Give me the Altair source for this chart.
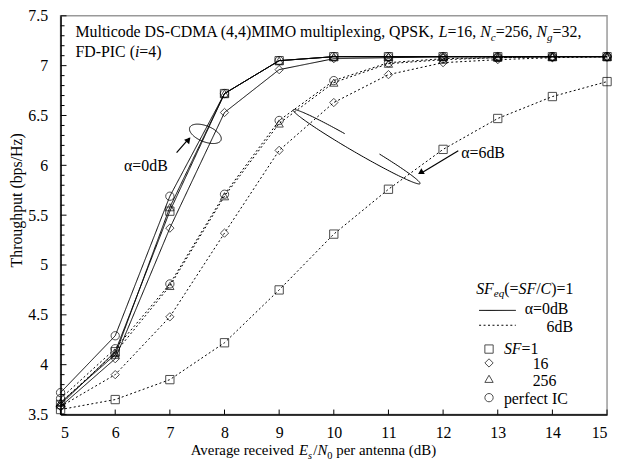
import altair as alt
import pandas as pd
import numpy as np

# ---------------- data ----------------
x_db = [5, 6, 7, 8, 9, 10, 11, 12, 13, 14, 15]
a0_sf1 = [3.60, 4.13, 5.54, 6.72, 7.05, 7.09, 7.09, 7.09, 7.09, 7.09, 7.09]
a0_sf16 = [3.58, 4.06, 5.37, 6.53, 6.96, 7.07, 7.08, 7.09, 7.09, 7.09, 7.09]
a0_sf256 = [3.62, 4.10, 5.58, 6.72, 7.05, 7.09, 7.09, 7.09, 7.09, 7.09, 7.09]
a0_pic = [3.72, 4.29, 5.69, 6.72, 7.05, 7.09, 7.09, 7.09, 7.09, 7.09, 7.09]
a6_sf1 = [3.55, 3.65, 3.85, 4.22, 4.75, 5.31, 5.76, 6.16, 6.47, 6.69, 6.84]
a6_sf16 = [3.58, 3.90, 4.48, 5.32, 6.15, 6.63, 6.91, 7.03, 7.06, 7.08, 7.09]
a6_sf256 = [3.62, 4.12, 4.79, 5.69, 6.42, 6.83, 7.02, 7.06, 7.08, 7.09, 7.09]
a6_pic = [3.66, 4.16, 4.81, 5.71, 6.45, 6.85, 7.03, 7.07, 7.08, 7.09, 7.09]

sf_names = ["SF=1", "16", "256", "perfect IC"]
shapes = ["square", "diamond", "triangle-up", "circle"]
alphas = ["0dB", "6dB"]
x_ticks = [5, 6, 7, 8, 9, 10, 11, 12, 13, 14, 15]
y_labels = [3.5, 4, 4.5, 5, 5.5, 6, 6.5, 7, 7.5]
y_minor = [round(3.5 + 0.1 * i, 1) for i in range(41)]

series = {
    ("0dB", "SF=1"): a0_sf1, ("0dB", "16"): a0_sf16,
    ("0dB", "256"): a0_sf256, ("0dB", "perfect IC"): a0_pic,
    ("6dB", "SF=1"): a6_sf1, ("6dB", "16"): a6_sf16,
    ("6dB", "256"): a6_sf256, ("6dB", "perfect IC"): a6_pic,
}
rows = []
for (al, sf), ys in series.items():
    for xv, yv in zip(x_db, ys):
        rows.append(dict(x=xv, y=yv, alpha=al, sf=sf, series=al + sf))
df = pd.DataFrame(rows)

# ---------------- geometry helpers ----------------
W, H = 551, 402
X0, Y0 = 61, 14  # page position of plot origin


def gx(px):
    return 5 + (px - X0) / W * 10


def gy(py):
    return 7.5 - (py - Y0) / H * 4


REG = {' ': 250, '(': 333, ')': 333, ',': 250, '-': 333, '/': 278, '=': 564,
       'A': 722, 'B': 667, 'C': 667, 'D': 722, 'E': 611, 'F': 556, 'H': 722,
       'I': 333, 'K': 722, 'L': 611, 'M': 889, 'N': 722, 'O': 722, 'P': 556,
       'Q': 722, 'S': 556, 'T': 611, 'a': 444, 'b': 500, 'c': 444, 'd': 500,
       'e': 444, 'f': 333, 'g': 500, 'h': 500, 'i': 278, 'l': 278, 'm': 778,
       'n': 500, 'o': 500, 'p': 500, 'q': 500, 'r': 333, 's': 389, 't': 278,
       'u': 500, 'v': 500, 'x': 500, 'y': 500, 'z': 444, 'α': 520}
ITA = {'C': 667, 'E': 611, 'F': 611, 'L': 556, 'N': 667, 'S': 500, 'c': 444,
       'e': 444, 'g': 500, 'i': 278, 'q': 500}


def textw(t, fs, it):
    tbl = ITA if it else REG
    return sum(tbl.get(c, 500) for c in t) * fs / 1000


def rich(parts, x0, base, align="left", size=16):
    ws = []
    for t, it, sub in parts:
        fs = size * 0.7 if sub else size
        ws.append(textw(t, fs, it))
    tot = sum(ws)
    if align == "right":
        x0 -= tot
    elif align == "center":
        x0 -= tot / 2
    out = []
    x = x0
    for (t, it, sub), w in zip(parts, ws):
        fs = size * 0.7 if sub else size
        lead = len(t) - len(t.lstrip(" "))
        xs_ = x + textw(" " * lead, fs, it)
        out.append(dict(x=gx(xs_), y=gy(base + (4 if sub else 0)), text=t.strip(" "),
                        italic=bool(it), fs=fs))
        x += w
    return out


texts = []
texts += rich([("Multicode DS-CDMA (4,4)MIMO multiplexing, QPSK, ", 0, 0), ("L", 1, 0),
               ("=16, ", 0, 0), ("N", 1, 0), ("c", 1, 1), ("=256, ", 0, 0),
               ("N", 1, 0), ("g", 1, 1), ("=32,", 0, 0)], 76, 35)
texts += rich([("FD-PIC (", 0, 0), ("i", 1, 0), ("=4)", 0, 0)], 76, 56)
texts += rich([("Average received ", 0, 0), ("E", 1, 0), ("s", 1, 1), ("/", 0, 0),
               ("N", 1, 0), ("0", 0, 1), (" per antenna (dB)", 0, 0)], 316, 457,
              "center", size=15)
texts += rich([("SF", 1, 0), ("eq", 1, 1), ("(=", 0, 0), ("SF", 1, 0), ("/", 0, 0),
               ("C", 1, 0), (")=1", 0, 0)], 578, 294, "right")
texts += rich([("α=0dB", 0, 0)], 529, 315)
texts += rich([("6dB", 0, 0)], 551, 333)
texts += rich([("SF", 1, 0), ("=1", 0, 0)], 508, 355)
texts += rich([("16", 0, 0)], 537, 370)
texts += rich([("256", 0, 0)], 537, 387)
texts += rich([("perfect IC", 0, 0)], 508, 405)
texts += rich([("α=0dB", 0, 0)], 125, 170)
texts += rich([("α=6dB", 0, 0)], 465, 157)
tdf = pd.DataFrame(texts)

# ellipses (annotation outlines)
ell_rows = []


def ellipse(cx, cy, a, b, rot, seg, t0, t1):
    th = np.radians(rot)
    ux, uy = np.cos(th), np.sin(th)
    vx, vy = -np.sin(th), np.cos(th)
    for i, t in enumerate(np.linspace(t0, t1, 160)):
        px = cx + a * np.cos(t) * ux + b * np.sin(t) * vx
        py = cy + a * np.cos(t) * uy + b * np.sin(t) * vy
        ell_rows.append(dict(x=gx(px), y=gy(py), seg=seg, i=i))


ellipse(207, 133, 17, 8, 22, "e1", 0, 2 * np.pi)
ellipse(359.5, 146, 74, 5.5, 30.2, "e2", 5.038, 4.480 + 2 * np.pi)
edf = pd.DataFrame(ell_rows)

# arrows
arrow_df = pd.DataFrame([
    dict(x=gx(178), y=gy(152), x2=gx(191), y2=gy(137)),
    dict(x=gx(462), y=gy(150), x2=gx(424), y2=gy(173)),
])
head_df = pd.DataFrame([
    dict(x=gx(190), y=gy(139), ang=41),
    dict(x=gx(424), y=gy(172), ang=239),
])

# legend samples
leg_lines = pd.DataFrame([
    dict(x=gx(483), x2=gx(520), y=gy(311), alpha="0dB"),
    dict(x=gx(483), x2=gx(520), y=gy(326), alpha="6dB"),
])
leg_pts = pd.DataFrame([
    dict(x=gx(493), y=gy(350), sf="SF=1"),
    dict(x=gx(493), y=gy(364), sf="16"),
    dict(x=gx(493), y=gy(380), sf="256"),
    dict(x=gx(493), y=gy(399), sf="perfect IC"),
])

# ticks (inward)
xt_df = pd.DataFrame(dict(x=x_ticks, y=[3.5] * len(x_ticks),
                          y2=[3.5 + 5 / H * 4] * len(x_ticks)))
yt_df = pd.DataFrame(dict(y=y_minor, x=[5] * len(y_minor),
                          x2=[5 + (6 if abs(v * 2 - round(v * 2)) < 1e-6 else 4) / W * 10 for v in y_minor]))

FONT = "Liberation Serif"
xs = alt.Scale(domain=[5, 15], nice=False, zero=False)
ys = alt.Scale(domain=[3.5, 7.5], nice=False, zero=False)
dash_scale = alt.Scale(domain=alphas, range=[[1, 0], [2, 2.5]])
shape_scale = alt.Scale(domain=sf_names, range=shapes)

X = alt.X("x:Q", scale=xs, title=None,
          axis=alt.Axis(values=x_ticks, format="d", labelPadding=10, labelFont=FONT,
                        labelFontSize=16, labelColor="black", ticks=False, grid=False,
                        domainColor="black", domainWidth=1.5))
Y = alt.Y("y:Q", scale=ys, title=None,
          axis=alt.Axis(values=y_labels, format=".1~f", labelPadding=13, labelFont=FONT,
                        labelFontSize=16, labelColor="black", ticks=False, grid=False,
                        domainColor="black", domainWidth=1.5))

lines = alt.Chart(df).mark_line(color="black", strokeWidth=1).encode(
    x=X, y=Y, detail="series:N",
    strokeDash=alt.StrokeDash("alpha:N", scale=dash_scale, legend=None))
pts = alt.Chart(df).mark_point(filled=False, color="black", size=70, strokeWidth=1).encode(
    x="x:Q", y="y:Q", shape=alt.Shape("sf:N", scale=shape_scale, legend=None))

xt = alt.Chart(xt_df).mark_rule(color="black", strokeWidth=1).encode(x="x:Q", y="y:Q", y2="y2")
yt = alt.Chart(yt_df).mark_rule(color="black", strokeWidth=1).encode(x="x:Q", x2="x2", y="y:Q")

ll = alt.Chart(leg_lines).mark_rule(color="black", strokeWidth=1).encode(
    x="x:Q", x2="x2", y="y:Q",
    strokeDash=alt.StrokeDash("alpha:N", scale=alt.Scale(domain=alphas, range=[[1, 0], [4, 3]]), legend=None))
lp = alt.Chart(leg_pts).mark_point(filled=False, color="black", size=70, strokeWidth=1).encode(
    x="x:Q", y="y:Q", shape=alt.Shape("sf:N", scale=shape_scale, legend=None))

ell = alt.Chart(edf).mark_line(color="black", strokeWidth=1).encode(
    x="x:Q", y="y:Q", detail="seg:N", order="i:Q")
arr = alt.Chart(arrow_df).mark_rule(color="black", strokeWidth=1.2).encode(
    x="x:Q", y="y:Q", x2="x2", y2="y2")
heads = alt.Chart(head_df).mark_point(shape="triangle-up", filled=True, color="black",
                                      size=45, opacity=1).encode(
    x="x:Q", y="y:Q", angle=alt.Angle("ang:Q", scale=None))

tn = alt.Chart(tdf[~tdf.italic]).mark_text(align="left", baseline="alphabetic", font=FONT,
                                          color="black").encode(
    x="x:Q", y="y:Q", text="text:N", size=alt.Size("fs:Q", scale=None, legend=None))
ti = alt.Chart(tdf[tdf.italic]).mark_text(align="left", baseline="alphabetic", font=FONT,
                                         fontStyle="italic", color="black").encode(
    x="x:Q", y="y:Q", text="text:N", size=alt.Size("fs:Q", scale=None, legend=None))

ytitle = alt.Chart(pd.DataFrame([dict(x=gx(17), y=gy(200), text="Throughput (bps/Hz)")])).mark_text(
    angle=270, align="center", baseline="middle", font=FONT, fontSize=16, color="black").encode(
    x="x:Q", y="y:Q", text="text:N")

chart = alt.layer(xt, yt, lines, pts, ll, lp, ell, arr, heads, tn, ti, ytitle).properties(
    width=W, height=H,
    autosize=alt.AutoSizeParams(type="none"),
    padding={"left": 53, "top": 6, "right": 5, "bottom": 46},
).configure_view(stroke="#999999", strokeWidth=1.5).configure_axis(
    labelFont=FONT, labelFontSize=16, labelColor="black", domainColor="black",
    domainWidth=1.5, grid=False, ticks=False)

chart.save("out.html", embed_options={"renderer": "svg", "actions": False})
